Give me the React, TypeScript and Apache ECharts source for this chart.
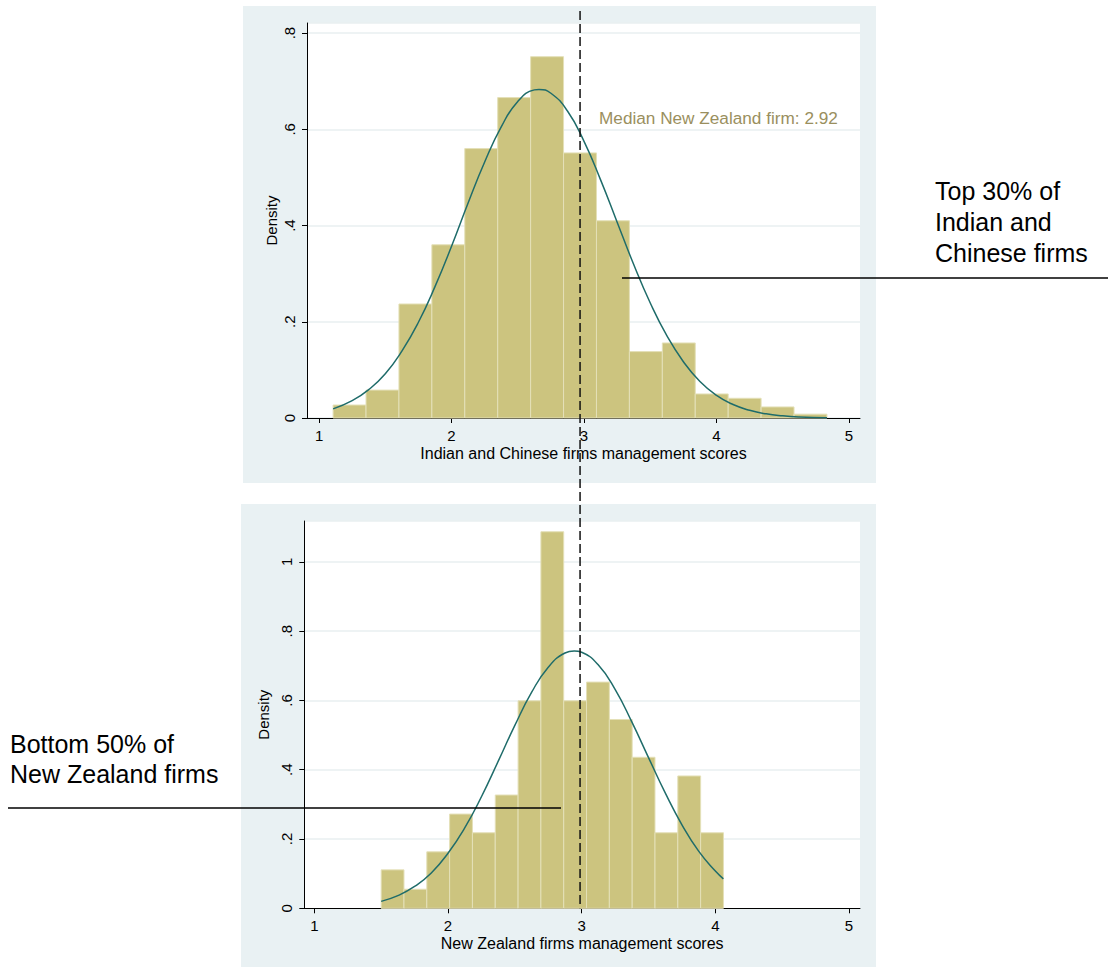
import React, { useEffect, useRef } from "react";
import * as echarts from "echarts";

// ---------- data ----------
// Top panel: Indian and Chinese firms
const topBinStart = 1.106;
const topBinWidth = 0.2485;
const topDensity = [0.027, 0.058, 0.237, 0.36, 0.56, 0.666, 0.751, 0.551, 0.41, 0.138, 0.156, 0.05, 0.041, 0.023, 0.008];
const topCurveX = [1.106, 1.25, 1.375, 1.5, 1.625, 1.75, 1.875, 2.0, 2.125, 2.25, 2.375, 2.5, 2.625, 2.66, 2.75, 2.875, 3.0, 3.125, 3.25, 3.375, 3.5, 3.625, 3.75, 3.875, 4.0, 4.125, 4.25, 4.375, 4.5, 4.625, 4.834];
const topCurveY = [0.019, 0.036, 0.059, 0.092, 0.139, 0.199, 0.273, 0.357, 0.447, 0.532, 0.605, 0.658, 0.682, 0.683, 0.675, 0.638, 0.575, 0.495, 0.407, 0.319, 0.239, 0.171, 0.117, 0.076, 0.047, 0.028, 0.016, 0.0086, 0.0045, 0.0022, 0.0006];

// Bottom panel: New Zealand firms
const botBinStart = 1.5;
const botBinWidth = 0.1707;
const botDensity = [0.111, 0.055, 0.163, 0.272, 0.218, 0.327, 0.599, 1.087, 0.599, 0.653, 0.545, 0.436, 0.218, 0.382, 0.218];
const botCurveX = [1.5, 1.625, 1.75, 1.875, 2.0, 2.125, 2.25, 2.375, 2.5, 2.625, 2.75, 2.875, 2.944, 3.0, 3.125, 3.25, 3.375, 3.5, 3.625, 3.75, 3.875, 4.0, 4.06];
const botCurveY = [0.02, 0.0365, 0.063, 0.102, 0.159, 0.232, 0.322, 0.424, 0.528, 0.623, 0.696, 0.737, 0.743, 0.739, 0.702, 0.632, 0.538, 0.435, 0.333, 0.241, 0.165, 0.1075, 0.085];

const xTicks = [1, 2, 3, 4, 5];
const medianLineX = 2.97;
const medianLabel = "Median New Zealand firm: 2.92";
const topXTitle = "Indian and Chinese firms management scores";
const botXTitle = "New Zealand firms management scores";
const yTitle = "Density";
const topNote = ["Top 30% of", "Indian and", "Chinese firms"];
const botNote = ["Bottom 50% of", "New Zealand firms"];

// ---------- styling ----------
const FONT = "Liberation Sans, Arial, sans-serif";
const BAR_FILL = "#CCC47F";
const BAR_EDGE = "#E4E0B8";
const CURVE = "#1F6C6A";
const PANEL = "#E9F1F3";
const GRIDLINE = "#E8EFF1";

function bins(start: number, width: number, dens: number[]) {
  return dens.map((d, i) => [start + i * width, start + (i + 1) * width, d]);
}

function pairs(xs: number[], ys: number[]) {
  return xs.map((x, i) => [x, ys[i]]);
}

const fmtY = (v: number) => {
  const s = (Math.round(v * 10) / 10).toFixed(1);
  if (s === "0.0") return "0";
  if (s === "1.0") return "1";
  return s.replace(/^0/, "");
};

function xAxisDef(gridIndex: number, min: number, max: number, title: string) {
  return {
    type: "value",
    gridIndex,
    min,
    max,
    name: title,
    nameLocation: "middle",
    nameGap: 27,
    nameTextStyle: { fontFamily: FONT, fontSize: 16, color: "#000" },
    axisLine: { show: true, onZero: false, lineStyle: { color: "#000", width: 1 } },
    axisTick: { show: true, length: 5, customValues: xTicks, lineStyle: { color: "#000" } },
    axisLabel: { customValues: xTicks, margin: 10, fontFamily: FONT, fontSize: 15, color: "#000" },
    splitLine: { show: false },
  };
}

function yAxisDef(gridIndex: number, max: number) {
  return {
    type: "value",
    gridIndex,
    min: 0,
    max,
    interval: 0.2,
    name: yTitle,
    nameLocation: "middle",
    nameGap: 28,
    nameTextStyle: { fontFamily: FONT, fontSize: 15, color: "#000" },
    axisLine: { show: true, lineStyle: { color: "#000", width: 1 } },
    axisTick: { show: true, length: 5, lineStyle: { color: "#000" } },
    axisLabel: { rotate: 90, margin: 10, fontFamily: FONT, fontSize: 15, color: "#000", formatter: fmtY, showMaxLabel: false },
    splitLine: { show: true, lineStyle: { color: GRIDLINE, width: 1.5 } },
  };
}

function histSeries(idx: number, data: number[][]) {
  return {
    type: "custom",
    xAxisIndex: idx,
    yAxisIndex: idx,
    data,
    encode: { x: [0, 1], y: 2 },
    renderItem: (params: any, api: any) => {
      const p0 = api.coord([api.value(0), 0]);
      const p1 = api.coord([api.value(1), api.value(2)]);
      return {
        type: "rect",
        shape: { x: p0[0], y: p1[1], width: p1[0] - p0[0], height: p0[1] - p1[1] },
        style: { fill: BAR_FILL, stroke: BAR_EDGE, lineWidth: 1 },
      };
    },
    z: 2,
  };
}

function curveSeries(idx: number, data: number[][]) {
  return {
    type: "line",
    xAxisIndex: idx,
    yAxisIndex: idx,
    data,
    smooth: true,
    showSymbol: false,
    lineStyle: { color: CURVE, width: 1.5 },
    z: 3,
  };
}

export default function App() {
  const ref = useRef<HTMLDivElement>(null);

  useEffect(() => {
    if (!ref.current) return;
    const chart = echarts.init(ref.current, undefined, { renderer: "svg" });

    const staticGraphics: any[] = [
      { type: "rect", z: -10, shape: { x: 243, y: 6, width: 633, height: 477 }, style: { fill: PANEL } },
      { type: "rect", z: -10, shape: { x: 241, y: 504, width: 635, height: 463 }, style: { fill: PANEL } },
      {
        type: "text",
        z: 10,
        x: 599,
        y: 118,
        style: { text: medianLabel, fontFamily: FONT, fontSize: 17.2, fill: "#9A8F5E", verticalAlign: "middle", align: "left" },
      },
      {
        type: "text",
        z: 10,
        x: 935,
        y: 175,
        style: { text: topNote.join("\n"), fontFamily: FONT, fontSize: 25, lineHeight: 31, fill: "#000", verticalAlign: "top", align: "left" },
      },
      {
        type: "text",
        z: 10,
        x: 10,
        y: 729,
        style: { text: botNote.join("\n"), fontFamily: FONT, fontSize: 25, lineHeight: 30, fill: "#000", verticalAlign: "top", align: "left" },
      },
      { type: "line", z: 10, shape: { x1: 622, y1: 278, x2: 1108, y2: 278 }, style: { stroke: "#000", lineWidth: 1.5 } },
      { type: "line", z: 10, shape: { x1: 8, y1: 808, x2: 561, y2: 808 }, style: { stroke: "#000", lineWidth: 1.5 } },
    ];

    chart.setOption({
      animation: false,
      backgroundColor: "#fff",
      grid: [
        { left: 307, top: 23, width: 553, height: 395, show: true, backgroundColor: "#fff", borderWidth: 0 },
        { left: 304.3, top: 521, width: 555.7, height: 387.3, show: true, backgroundColor: "#fff", borderWidth: 0 },
      ],
      xAxis: [xAxisDef(0, 0.909, 5.083, topXTitle), xAxisDef(1, 0.925, 5.082, botXTitle)],
      yAxis: [yAxisDef(0, 0.821), yAxisDef(1, 1.118)],
      series: [
        histSeries(0, bins(topBinStart, topBinWidth, topDensity)),
        curveSeries(0, pairs(topCurveX, topCurveY)),
        histSeries(1, bins(botBinStart, botBinWidth, botDensity)),
        curveSeries(1, pairs(botCurveX, botCurveY)),
      ],
      graphic: staticGraphics,
    });

    const px = chart.convertToPixel({ xAxisIndex: 0 }, medianLineX) as number;
    const yBottom = chart.convertToPixel({ yAxisIndex: 1 }, 0) as number;
    chart.setOption({
      graphic: [
        ...staticGraphics,
        {
          type: "line",
          z: 20,
          shape: { x1: px, y1: 11, x2: px, y2: yBottom },
          style: { stroke: "#111", lineWidth: 1.5, lineDash: [9, 4] },
        },
      ],
    });

    return () => chart.dispose();
  }, []);

  return <div ref={ref} style={{ position: "absolute", left: 0, top: 0, width: 1110, height: 967 }} />;
}
